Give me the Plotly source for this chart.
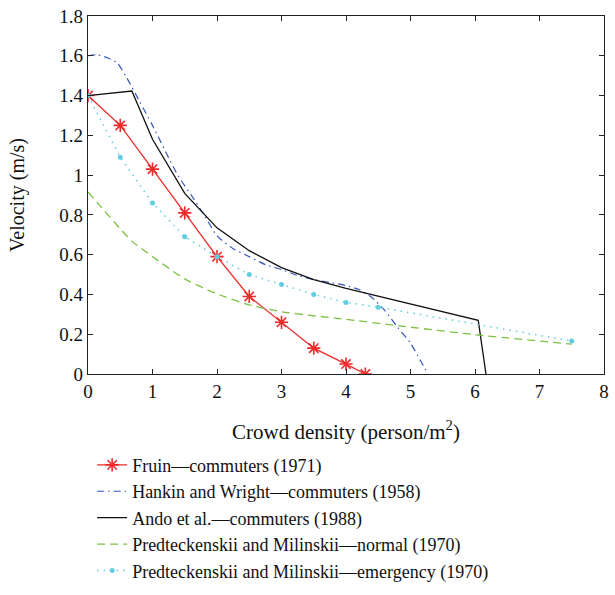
import plotly.graph_objects as go

# ---- data ----
fruin_x = [0, 0.5, 1.0, 1.5, 2.0, 2.5, 3.0, 3.5, 4.0, 4.3]
fruin_y = [1.40, 1.25, 1.03, 0.81, 0.59, 0.39, 0.26, 0.13, 0.05, 0.0]

hankin_x = [0, 0.15, 0.3, 0.45, 0.6, 0.8, 1.0, 1.2, 1.4, 1.6, 1.8, 2.0, 2.25, 2.5,
            2.75, 3.0, 3.25, 3.5, 3.75, 4.0, 4.2, 4.4, 4.6, 4.8, 5.0, 5.15, 5.27]
hankin_y = [1.60, 1.605, 1.59, 1.565, 1.49, 1.37, 1.25, 1.12, 0.995, 0.90, 0.80, 0.695, 0.63, 0.59,
            0.55, 0.525, 0.495, 0.475, 0.46, 0.445, 0.425, 0.385, 0.32, 0.235, 0.155, 0.07, 0.0]

ando_x = [0, 0.68, 1.0, 1.5, 2.0, 2.5, 3.0, 3.5, 4.0, 6.05, 6.17]
ando_y = [1.40, 1.423, 1.18, 0.908, 0.735, 0.62, 0.535, 0.475, 0.43, 0.27, 0.0]

pm_normal_x = [0, 0.175, 0.5, 0.68, 1.0, 1.5, 2.0, 2.5, 3.0, 3.5, 4.0, 4.75, 6.08, 7.5]
pm_normal_y = [0.915, 0.85, 0.73, 0.668, 0.59, 0.478, 0.403, 0.347, 0.313, 0.293, 0.275, 0.245, 0.195, 0.15]

pm_emerg_x = [0, 0.5, 1.0, 1.5, 2.0, 2.5, 3.0, 3.5, 4.0, 4.5, 7.5]
pm_emerg_y = [1.40, 1.09, 0.86, 0.69, 0.59, 0.50, 0.45, 0.40, 0.36, 0.336, 0.166]

x_ticks = [0, 1, 2, 3, 4, 5, 6, 7, 8]
y_ticks = [0, 0.2, 0.4, 0.6, 0.8, 1.0, 1.2, 1.4, 1.6, 1.8]
y_tick_text = ["0", "0.2", "0.4", "0.6", "0.8", "1", "1.2", "1.4", "1.6", "1.8"]

FONT = "Liberation Serif"

fig = go.Figure()
fig.add_trace(go.Scatter(
    x=fruin_x, y=fruin_y, mode="lines+markers", name="Fruin\u2014commuters (1971)",
    line=dict(color="#ee2a2a", width=1.3),
    marker=dict(symbol="asterisk-open", size=11, line=dict(color="#ee2a2a", width=1.6))))
fig.add_trace(go.Scatter(
    x=hankin_x, y=hankin_y, mode="lines", name="Hankin and Wright\u2014commuters (1958)",
    line=dict(color="#3355bb", width=1.2, dash="7px,4px,1.5px,4px", shape="spline", smoothing=0.6)))
fig.add_trace(go.Scatter(
    x=ando_x, y=ando_y, mode="lines", name="Ando et al.\u2014commuters (1988)",
    line=dict(color="#111111", width=1.3)))
fig.add_trace(go.Scatter(
    x=pm_normal_x, y=pm_normal_y, mode="lines", name="Predteckenskii and Milinskii\u2014normal (1970)",
    line=dict(color="#7cc242", width=1.3, dash="8px,5px", shape="spline", smoothing=0.6)))
fig.add_trace(go.Scatter(
    x=pm_emerg_x, y=pm_emerg_y, mode="lines+markers", name="Predteckenskii and Milinskii\u2014emergency (1970)",
    line=dict(color="#62cde0", width=1.5, dash="1.5px,5px"),
    marker=dict(symbol="circle", size=5, color="#62cde0")))

axis_common = dict(
    showline=True, linecolor="#222222", linewidth=1.2, mirror="ticks",
    ticks="inside", ticklen=5, tickcolor="#222222", tickwidth=1,
    showgrid=False, zeroline=False,
    tickfont=dict(family=FONT, size=19, color="#111111"),
)

fig.update_layout(
    width=615, height=595,
    margin=dict(l=88, r=6, t=12, b=221),
    paper_bgcolor="white", plot_bgcolor="white",
    font=dict(family=FONT, size=19, color="#111111"),
    xaxis=dict(range=[0, 8], tickvals=x_ticks, ticktext=[str(t) for t in x_ticks],
               title=dict(text="Crowd density (person/m<sup>2</sup>)",
                          font=dict(family=FONT, size=21), standoff=23),
               **axis_common),
    yaxis=dict(range=[0, 1.8], tickvals=y_ticks, ticktext=y_tick_text,
               title=dict(text="Velocity (m/s)", font=dict(family=FONT, size=20), standoff=29),
               **axis_common),
    showlegend=True,
    legend=dict(x=0.008, y=-0.203, xanchor="left", yanchor="top",
                font=dict(family=FONT, size=18), bgcolor="rgba(0,0,0,0)",
                tracegroupgap=0),
)

fig.write_html("out.html")
